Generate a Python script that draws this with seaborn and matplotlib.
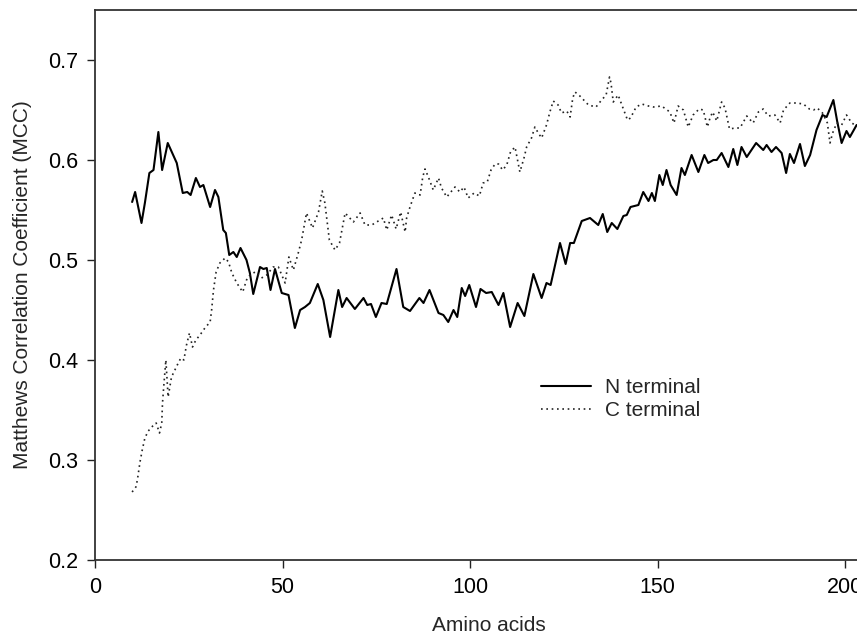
import seaborn as sns
import matplotlib.pyplot as plt
import pandas as pd

# N terminal (solid line)
n_pos = [
    9.9, 10.7, 12.4, 13.3, 14.5, 15.6, 16.9, 17.9, 19.4, 21.8,
    23.4, 24.6, 25.5, 26.9, 28.0, 28.9, 30.7, 32.0, 32.9, 34.2,
    34.9, 35.8, 36.9, 37.8, 38.8, 40.4, 41.3, 42.2, 44.0, 44.9,
    45.8, 46.8, 48.0, 49.8, 51.6, 53.3, 54.7, 56.0, 57.3, 59.4,
    60.9, 62.7, 64.9, 65.9, 67.1, 69.3, 71.6, 72.6, 73.6, 74.9,
    76.4, 77.8, 80.4, 82.2, 84.0, 86.5, 87.6, 89.2, 91.6, 92.9,
    94.2, 95.6, 96.6, 97.8, 98.7, 99.8, 101.6, 102.8, 104.3, 105.8,
    107.6, 108.9, 110.7, 112.7, 114.5, 116.9, 119.1, 120.4, 121.5, 124.0,
    125.5, 126.7, 127.7, 129.8, 132.0, 134.2, 135.4, 136.6, 137.8, 139.3,
    140.9, 141.8, 142.8, 144.9, 146.2, 147.6, 148.5, 149.3, 150.5, 151.4,
    152.4, 153.5, 155.1, 156.4, 157.3, 159.1, 160.9, 162.5, 163.5, 164.9,
    165.8, 167.1, 168.9, 170.2, 171.3, 172.4, 173.8, 176.3, 178.2, 179.1,
    180.4, 181.6, 183.1, 184.3, 185.3, 186.4, 188.0, 189.3, 190.7, 192.4,
    194.0, 195.1, 196.9, 197.9, 199.1, 200.4, 201.3, 203.1,
]
n_mcc = [
    0.558, 0.568, 0.537, 0.557, 0.587, 0.590, 0.628, 0.590, 0.617, 0.597,
    0.567, 0.568, 0.565, 0.582, 0.573, 0.575, 0.553, 0.570, 0.563, 0.530,
    0.527, 0.505, 0.508, 0.503, 0.512, 0.500, 0.487, 0.466, 0.493, 0.491,
    0.492, 0.470, 0.491, 0.467, 0.465, 0.432, 0.450, 0.453, 0.457, 0.476,
    0.460, 0.423, 0.470, 0.453, 0.462, 0.451, 0.462, 0.455, 0.456, 0.443,
    0.457, 0.456, 0.491, 0.453, 0.449, 0.462, 0.457, 0.470, 0.447, 0.445,
    0.438, 0.450, 0.443, 0.472, 0.464, 0.475, 0.453, 0.471, 0.467, 0.468,
    0.455, 0.467, 0.433, 0.457, 0.444, 0.486, 0.462, 0.477, 0.475, 0.517,
    0.496, 0.517, 0.517, 0.539, 0.542, 0.535, 0.546, 0.528, 0.537, 0.531,
    0.544, 0.545, 0.553, 0.555, 0.568, 0.559, 0.567, 0.559, 0.585, 0.575,
    0.590, 0.575, 0.565, 0.592, 0.585, 0.605, 0.588, 0.605, 0.597, 0.600,
    0.600, 0.607, 0.593, 0.611, 0.595, 0.613, 0.603, 0.617, 0.610, 0.615,
    0.608, 0.613, 0.607, 0.587, 0.606, 0.597, 0.616, 0.594, 0.605, 0.630,
    0.645, 0.643, 0.660, 0.639, 0.617, 0.629, 0.623, 0.635,
]

# C terminal (dotted line)
c_pos = [
    9.9, 10.9, 11.3, 12.0, 12.6, 13.3, 14.2, 15.4, 16.3, 17.2,
    17.8, 18.0, 18.4, 18.9, 19.5, 20.4, 21.3, 22.2, 22.9, 23.7,
    24.4, 25.2, 26.0, 26.9, 28.0, 29.3, 30.7, 31.1, 31.6, 32.3,
    33.3, 34.7, 35.6, 36.5, 37.8, 39.4, 40.4, 41.3, 42.7, 44.4,
    45.8, 47.5, 48.9, 50.7, 51.7, 52.9, 54.2, 55.1, 56.4, 58.0,
    59.6, 60.6, 61.3, 62.5, 64.0, 65.2, 66.7, 68.9, 70.7, 72.0,
    73.8, 75.1, 76.9, 77.8, 79.1, 80.3, 81.5, 82.7, 83.1, 84.0,
    85.3, 86.7, 87.4, 88.0, 88.9, 90.2, 91.6, 92.4, 93.8, 96.0,
    97.3, 98.4, 99.5, 101.1, 102.5, 103.5, 104.6, 105.6, 106.7, 107.6,
    108.7, 109.8, 110.8, 112.0, 113.3, 114.4, 115.1, 116.4, 117.3, 118.2,
    119.1, 120.4, 121.3, 122.2, 123.5, 124.4, 125.8, 126.7, 127.4, 128.0,
    129.3, 131.6, 133.6, 135.1, 136.3, 137.2, 137.6, 138.2, 139.5, 140.7,
    142.0, 142.8, 144.3, 145.8, 147.6, 148.9, 151.1, 153.3, 154.4, 155.5,
    156.9, 158.2, 159.5, 161.1, 162.2, 163.3, 164.0, 164.7, 165.8, 167.1,
    168.0, 169.2, 170.7, 172.0, 172.9, 173.8, 175.5, 176.9, 178.2, 179.5,
    181.3, 182.7, 183.6, 185.3, 187.1, 188.9, 190.5, 191.6, 192.6, 194.0,
    195.3, 196.0, 196.7, 197.8, 199.1, 200.4, 201.8, 203.1,
]
c_mcc = [
    0.268, 0.273, 0.280, 0.298, 0.310, 0.322, 0.329, 0.334, 0.337, 0.327,
    0.337, 0.357, 0.377, 0.400, 0.363, 0.383, 0.390, 0.397, 0.402, 0.400,
    0.415, 0.427, 0.413, 0.420, 0.425, 0.432, 0.438, 0.450, 0.470, 0.488,
    0.497, 0.502, 0.498, 0.487, 0.477, 0.468, 0.480, 0.485, 0.488, 0.482,
    0.485, 0.493, 0.493, 0.477, 0.503, 0.490, 0.507, 0.520, 0.547, 0.532,
    0.548, 0.569, 0.557, 0.520, 0.510, 0.517, 0.547, 0.538, 0.547, 0.535,
    0.535, 0.538, 0.542, 0.530, 0.545, 0.531, 0.548, 0.528, 0.542, 0.553,
    0.567, 0.565, 0.583, 0.591, 0.583, 0.570, 0.582, 0.572, 0.563, 0.573,
    0.568, 0.573, 0.562, 0.567, 0.564, 0.577, 0.578, 0.590, 0.596, 0.596,
    0.590, 0.595, 0.608, 0.613, 0.588, 0.602, 0.613, 0.622, 0.633, 0.627,
    0.622, 0.635, 0.648, 0.659, 0.655, 0.647, 0.649, 0.643, 0.662, 0.668,
    0.664, 0.655, 0.653, 0.660, 0.665, 0.683, 0.677, 0.658, 0.665, 0.653,
    0.640, 0.642, 0.653, 0.656, 0.654, 0.653, 0.654, 0.648, 0.637, 0.654,
    0.650, 0.633, 0.645, 0.651, 0.650, 0.633, 0.642, 0.648, 0.639, 0.658,
    0.652, 0.631, 0.632, 0.632, 0.638, 0.644, 0.637, 0.648, 0.651, 0.644,
    0.645, 0.637, 0.650, 0.657, 0.657, 0.656, 0.651, 0.650, 0.652, 0.647,
    0.637, 0.617, 0.627, 0.637, 0.635, 0.645, 0.637, 0.634,
]

x_ticks = [0, 50, 100, 150, 200]
y_ticks = [0.2, 0.3, 0.4, 0.5, 0.6, 0.7]

df_n = pd.DataFrame({"pos": n_pos, "mcc": n_mcc})
df_c = pd.DataFrame({"pos": c_pos, "mcc": c_mcc})

sns.set_theme(style="ticks")
plt.rcParams["font.family"] = ["Liberation Sans", "DejaVu Sans"]

fig = plt.figure(figsize=(8.57, 6.34), dpi=100)
# axes run past the right edge of the figure, like the cropped original
ax = fig.add_axes([95 / 857, 74 / 634, 787.5 / 857, 550 / 634])

sns.lineplot(data=df_n, x="pos", y="mcc", color="black", linewidth=1.5,
             estimator=None, label="N terminal", ax=ax,
             solid_joinstyle="round", solid_capstyle="round")
sns.lineplot(data=df_c, x="pos", y="mcc", color="#222222", linewidth=1.2,
             linestyle=(0, (1, 2.2)), estimator=None, label="C terminal", ax=ax)

ax.set_xlim(0, 210)
ax.set_ylim(0.2, 0.75)
ax.set_xticks(x_ticks)
ax.set_yticks(y_ticks)
ax.set_xticklabels([str(t) for t in x_ticks])
ax.set_yticklabels([f"{t:.1f}" for t in y_ticks])
ax.tick_params(direction="out", length=6, width=1.0, labelsize=15.5,
               pad=6, colors="#222222", labelcolor="black")
for side in ["left", "top", "bottom"]:
    ax.spines[side].set_linewidth(1.3)
    ax.spines[side].set_color("#333333")
ax.spines["right"].set_visible(False)

ax.set_xlabel("Amino acids", fontsize=15, labelpad=13)
ax.set_ylabel("Matthews Correlation Coefficient (MCC)", fontsize=15, labelpad=12)

ax.legend(loc="center left", bbox_to_anchor=(541 / 857, 1 - 399 / 634),
          bbox_transform=fig.transFigure, frameon=False, fontsize=15,
          handlelength=2.4, handletextpad=0.65, labelspacing=0.2,
          borderpad=0, borderaxespad=0)

fig.savefig("out.png", dpi=100)
